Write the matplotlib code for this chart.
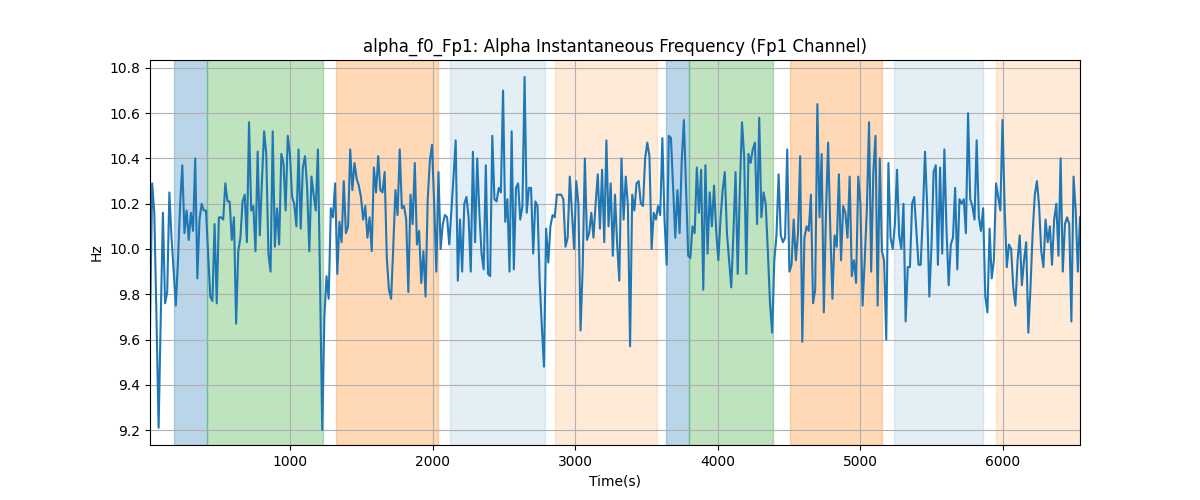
import numpy as np
import matplotlib
matplotlib.use("Agg")
import matplotlib.pyplot as plt

# alpha instantaneous frequency, Fp1 channel (Hz)
freq = [
    # ~20 - 830
    9.65, 10.29, 10.16, 9.70, 9.21, 9.70, 10.16, 9.76, 9.81, 10.25,
    10.05, 9.90, 9.75, 9.95, 10.20, 10.37, 10.07, 10.17, 10.04, 10.16,
    10.08, 10.40, 9.87, 10.13, 10.20, 10.17, 10.17, 9.98, 9.79, 9.77,
    10.11, 9.76, 10.14, 10.14, 10.13, 10.29, 10.21, 10.21, 10.04, 10.14,
    9.67, 9.99, 10.05, 10.21, 10.24, 10.03, 10.56, 10.17, 10.19, 9.99,
    10.43, 10.06, 10.30, 10.52,
    # ~830 - 1640
    10.42, 9.98, 9.90, 10.52, 10.01, 10.18, 10.02, 10.42, 10.38, 10.17,
    10.50, 10.42, 10.23, 10.20, 10.10, 10.44, 10.09, 10.36, 10.41, 10.27,
    9.99, 10.32, 10.24, 10.17, 10.44, 9.85, 9.20, 9.70, 9.88, 9.78,
    10.18, 10.14, 10.29, 9.89, 10.12, 10.03, 10.30, 10.07, 10.10, 10.44,
    10.26, 10.38, 10.31, 10.28, 10.23, 10.13, 10.19, 10.05, 10.14, 9.99,
    10.36, 10.25, 10.41, 10.26,
    # ~1640 - 2460
    10.25, 10.34, 9.96, 9.82, 9.78, 10.01, 10.26, 10.15, 10.44, 10.18,
    10.19, 10.13, 9.81, 10.24, 10.11, 10.38, 10.02, 10.08, 9.85, 9.99,
    9.79, 10.22, 10.39, 10.46, 10.20, 9.90, 10.34, 10.00, 10.11, 10.15,
    10.14, 10.02, 10.17, 10.32, 10.48, 9.86, 10.13, 9.90, 10.20, 10.23,
    10.14, 9.90, 10.43, 10.03, 10.40, 10.16, 9.98, 9.91, 10.37, 9.89,
    9.88, 10.50, 10.22,
    # ~2460 - 3280
    10.21, 10.27, 10.25, 10.70, 10.12, 10.22, 9.90, 10.52, 9.91, 10.27,
    10.29, 10.13, 10.19, 10.76, 10.16, 10.27, 10.27, 9.98, 10.21, 10.19,
    9.86, 9.66, 9.48, 10.09, 9.94, 10.10, 10.15, 10.14, 10.24, 10.24,
    10.24, 10.22, 10.01, 10.05, 10.32, 10.16, 10.00, 10.30, 10.20, 9.64,
    9.92, 10.40, 10.04, 10.07, 10.16, 10.05, 10.20, 10.33, 10.09, 10.35,
    10.03, 10.48, 10.10, 10.29,
    # ~3280 - 4090
    9.97, 10.24, 10.02, 9.86, 10.40, 10.13, 10.32, 10.19, 9.57, 10.24,
    10.17, 10.29, 10.30, 10.20, 10.19, 10.40, 10.47, 10.41, 10.00, 10.16,
    10.13, 10.19, 10.15, 10.49, 10.13, 9.93, 10.50, 10.49, 10.27, 10.05,
    10.26, 10.07, 10.39, 10.57, 10.27, 9.97, 9.96, 10.10, 10.07, 10.36,
    10.16, 10.35, 9.82, 10.37, 9.98, 10.25, 10.10, 10.28, 10.08, 9.95,
    10.13, 10.26, 10.34, 10.07,
    # ~4090 - 4900
    9.95, 9.83, 10.07, 10.34, 9.89, 10.27, 10.56, 10.41, 9.89, 10.42,
    10.38, 10.44, 10.47, 10.11, 10.58, 10.14, 10.25, 10.20, 9.99, 9.76,
    9.63, 9.95, 10.06, 10.33, 10.06, 10.03, 10.05, 10.44, 9.90, 9.93,
    10.13, 9.95, 10.07, 10.41, 9.59, 10.05, 10.10, 10.08, 10.24, 9.76,
    9.82, 10.64, 10.14, 10.42, 9.72, 10.16, 10.47, 10.09, 9.78, 10.06,
    10.01, 10.33, 9.95, 10.19,
    # ~4900 - 5720
    10.16, 10.05, 10.32, 9.88, 9.95, 9.85, 10.32, 10.20, 9.75, 9.95,
    10.18, 10.56, 9.90, 10.34, 10.50, 9.75, 10.40, 9.99, 9.95, 9.60,
    10.38, 10.05, 10.00, 10.11, 10.35, 10.06, 10.00, 10.20, 9.68, 9.92,
    9.92, 10.20, 10.23, 10.08, 9.93, 9.93, 10.15, 10.43, 10.19, 9.79,
    10.01, 10.34, 10.37, 9.93, 10.36, 9.98, 10.44, 10.08, 9.84, 10.02,
    10.05, 10.27, 9.91, 10.22, 10.20, 10.22,
    # ~5720 - 6540
    10.07, 10.60, 10.22, 10.19, 10.13, 10.48, 10.14, 10.08, 10.18, 9.79,
    9.72, 10.09, 9.87, 9.95, 10.29, 10.23, 10.17, 10.57, 10.18, 9.92,
    10.02, 10.00, 9.83, 9.75, 9.95, 10.06, 9.84, 9.95, 10.03, 9.63,
    9.83, 10.07, 10.24, 10.30, 10.19, 9.99, 9.92, 10.13, 10.03, 10.10,
    9.93, 10.13, 10.20, 9.97, 10.40, 9.90, 10.11, 10.14, 10.11, 9.68,
    10.32, 10.17, 9.90, 10.14,
]
t_start, t_end = 18, 6541
time = np.linspace(t_start, t_end, len(freq))

# shaded intervals: (start, end, colour, alpha)
span_start = [187, 419, 1323, 2122, 2858, 3637, 3798, 4508, 5236, 5951]
span_end = [419, 1232, 2038, 2788, 3574, 3798, 4389, 5152, 5860, 6541]
span_color = ['tab:blue', 'tab:green', 'tab:orange', 'tab:blue', 'tab:orange',
              'tab:blue', 'tab:green', 'tab:orange', 'tab:blue', 'tab:orange']
span_alpha = [0.3, 0.3, 0.3, 0.12, 0.16, 0.3, 0.3, 0.3, 0.12, 0.16]

fig, ax = plt.subplots(figsize=(12, 5), dpi=100)
for s, e, c, a in zip(span_start, span_end, span_color, span_alpha):
    ax.axvspan(s, e, color=c, alpha=a)
ax.plot(time, freq, color='tab:blue', linewidth=1.5)
ax.set_xlim(t_start, t_end)
ax.set_ylim(9.134, 10.835)
ax.grid(True)
ax.set_title("alpha_f0_Fp1: Alpha Instantaneous Frequency (Fp1 Channel)")
ax.set_xlabel("Time(s)")
ax.set_ylabel("Hz")
fig.savefig("out.png")
